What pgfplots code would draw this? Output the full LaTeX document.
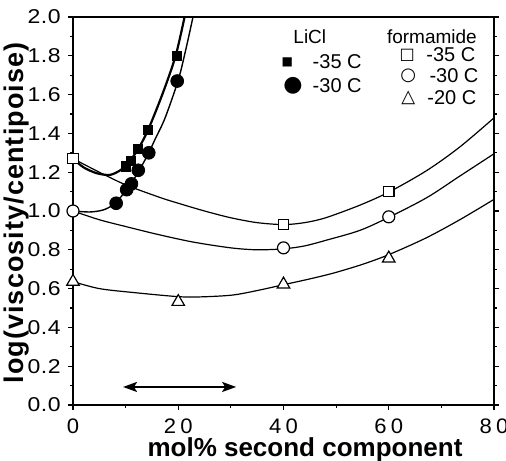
\documentclass[border=0pt]{standalone}
\usepackage{pgfplots}
\pgfplotsset{compat=1.18}
\usetikzlibrary{arrows.meta}
\usepackage{fontspec}
\setmainfont{Liberation Sans}
\newfontfamily\symfont{DejaVu Sans}
\newfontfamily\tickfont[FakeStretch=1.15,LetterSpace=3]{Liberation Sans}
\newfontfamily\xtickfont[FakeStretch=1.05]{Liberation Sans}
\newfontfamily\ylabfont[LetterSpace=4]{Liberation Sans}
\begin{document}
\begin{tikzpicture}
\begin{axis}[name=ax, scale only axis, width=210.5pt, height=194pt,
  xmin=0, xmax=80, ymin=0, ymax=2,
  clip=false,
  axis line style={line width=0.8pt},
  tick align=outside,
  xtick pos=bottom, ytick pos=both, yticklabel pos=left,
  xtick={0,20,40,60,80},
  xticklabels={0,2\kern2.2pt0,4\kern2.2pt0,6\kern2.2pt0,8\kern2.2pt0},
  minor xtick={10,30,50,70},
  ytick={0,0.2,0.4,0.6,0.8,1.0,1.2,1.4,1.6,1.8,2.0},
  yticklabels={0.0,0.2,0.4,0.6,0.8,1.0,1.2,1.4,1.6,1.8,2.0},
  minor ytick={0.1,0.3,0.5,0.7,0.9,1.1,1.3,1.5,1.7,1.9},
  major tick length=2.6pt, minor tick length=1.3pt,
  every tick/.style={black, line width=0.6pt},
  yticklabel style={font=\fontsize{10}{11}\selectfont\tickfont},
  xticklabel style={font=\fontsize{10.5}{11}\selectfont\xtickfont, yshift=-1pt},
  xlabel={mol\%\ second component},
  xlabel style={font=\fontsize{13}{14}\selectfont\bfseries, at={(axis description cs:0.5,0)}, anchor=base, yshift=-25.8pt, xshift=10.75pt},
  ylabel={log(viscosity/centipoise)},
  ylabel style={font=\fontsize{13.5}{14}\selectfont\ylabfont\bfseries, at={([xshift=-28pt,yshift=-1pt]axis description cs:0,0.5)}, anchor=center},
]
% formamide -35 C curve
\addplot[black, line width=0.6pt, smooth] coordinates {
 (0,1.27) (5,1.20) (10,1.135) (16.5,1.07) (20,1.04) (25,1.00) (30,0.965) (35,0.94) (40,0.93) (44,0.94) (48,0.965) (54.5,1.03) (60.2,1.10) (67.3,1.21) (73.5,1.33) (80,1.48)};
% formamide -30 C curve
\addplot[black, line width=0.6pt, smooth] coordinates {
 (0,1.00) (5,0.955) (10,0.92) (16,0.88) (22.8,0.84) (30,0.81) (35,0.80) (40,0.805) (44,0.82) (48.2,0.85) (54.5,0.90) (60.2,0.97) (67.3,1.07) (73.5,1.18) (80,1.295)};
% formamide -20 C curve
\addplot[black, line width=0.6pt, smooth] coordinates {
 (0,0.636) (5,0.60) (11.4,0.58) (20.3,0.558) (25,0.558) (30.4,0.567) (35,0.59) (40,0.62) (45,0.65) (49.5,0.68) (55,0.725) (60,0.775) (67,0.86) (73.5,0.955) (80,1.06)};
% LiCl -35 C curve
\addplot[black, line width=1.1pt, smooth] coordinates {
 (0,1.27) (2,1.225) (4.5,1.195) (7,1.186) (9,1.21) (10.3,1.24) (11,1.265) (12.4,1.32) (14.3,1.42) (17.1,1.61) (19.5,1.80) (21.2,2.0)};
% LiCl -30 C curve
\addplot[black, line width=0.7pt, smooth] coordinates {
 (0,1.00) (3.2,0.995) (5.7,1.005) (7.6,1.03) (8.4,1.05) (10.2,1.11) (11.1,1.145) (12.4,1.20) (14.4,1.30) (15.6,1.37) (17.5,1.48) (20.0,1.675) (21.5,1.84) (22.8,2.0)};
% markers: formamide
\addplot[only marks, mark=square*, mark size=2.6pt, mark options={draw=black, fill=white, line width=0.6pt}] coordinates {(0,1.27) (40,0.93) (60,1.10)};
\addplot[only marks, mark=*, mark size=3pt, mark options={draw=black, fill=white, line width=0.6pt}] coordinates {(0,1.00) (40,0.81) (60,0.97)};
\addplot[only marks, mark=triangle*, mark size=3.6pt, mark options={draw=black, fill=white, line width=0.6pt}] coordinates {(0,0.636) (20,0.532) (40,0.622) (60,0.756)};
% markers: LiCl
\addplot[only marks, mark=square*, mark size=2.3pt, mark options={draw=black, fill=black}] coordinates {(10.1,1.23) (11.0,1.26) (12.4,1.32) (14.3,1.42) (19.7,1.80)};
\addplot[only marks, mark=*, mark size=3.2pt, mark options={draw=black, fill=black}] coordinates {(8.2,1.04) (10.2,1.11) (11.1,1.14) (12.4,1.21) (14.4,1.30) (19.8,1.67)};
% arrow
\draw[{Stealth[length=7pt,width=5pt,inset=1.5pt]}-{Stealth[length=7pt,width=5pt,inset=1.5pt]}, line width=1pt] (axis cs:9.5,0.093) -- (axis cs:31,0.093);
% legend texts
\node[font=\fontsize{9.5}{10}\selectfont] at (axis cs:45.0,1.897) {LiCl};
\node[font=\fontsize{6}{7}\selectfont\symfont] at (axis cs:40.7,1.768) {■};
\node[font=\fontsize{10}{11}\selectfont] at (axis cs:50.2,1.768) {-35 C};
\node[font=\fontsize{11}{12}\selectfont\symfont] at (axis cs:41.8,1.644) {●};
\node[font=\fontsize{10}{11}\selectfont] at (axis cs:50.2,1.644) {-30 C};
\node[font=\fontsize{9.5}{10}\selectfont] at (axis cs:68.2,1.897) {formamide};
\node[font=\fontsize{8}{9}\selectfont\symfont] at (axis cs:63.5,1.804) {□};
\node[font=\fontsize{10}{11}\selectfont] at (axis cs:71.8,1.804) {-35 C};
\node[font=\fontsize{9}{10}\selectfont\symfont] at (axis cs:63.7,1.696) {○};
\node[font=\fontsize{10}{11}\selectfont] at (axis cs:72.4,1.696) {-30 C};
\node[font=\fontsize{9}{10}\selectfont\symfont] at (axis cs:63.7,1.582) {△};
\node[font=\fontsize{10}{11}\selectfont] at (axis cs:72.0,1.582) {-20 C};
\end{axis}
\pgfresetboundingbox
\path[use as bounding box] ([xshift=-36.5pt,yshift=-27.5pt]ax.south west) rectangle ([xshift=6pt,yshift=8.5pt]ax.north east);
\end{tikzpicture}
\end{document}
